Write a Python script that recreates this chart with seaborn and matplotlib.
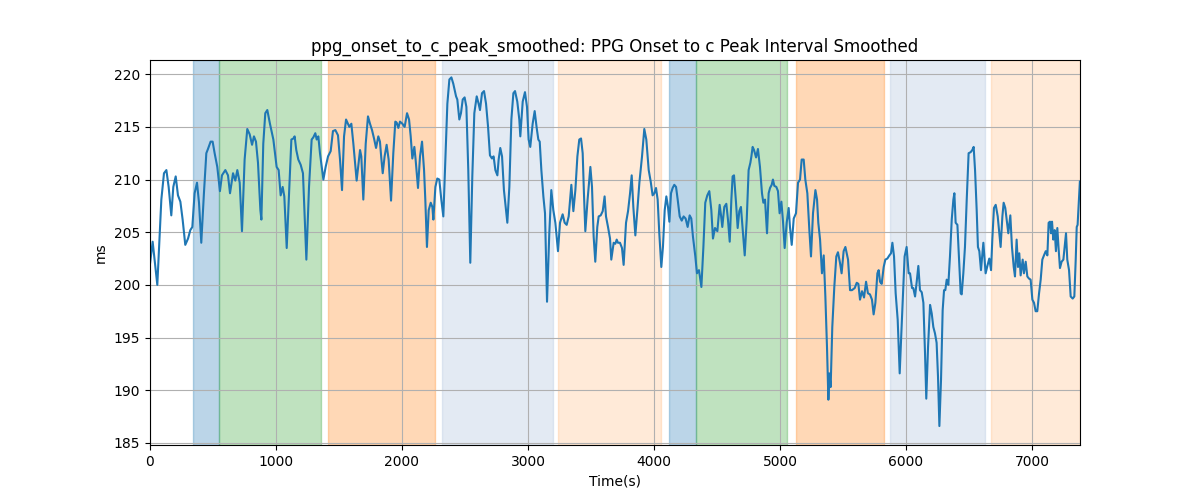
import matplotlib
matplotlib.use("Agg")
import matplotlib.pyplot as plt
import seaborn as sns
import pandas as pd

time_s = [0, 21, 58, 90, 111, 130, 148, 169, 185, 204, 222, 241, 259, 280, 302, 320, 336, 354, 373, 389,
          407, 428, 447, 460, 481, 497, 513, 534, 555, 571, 598, 619, 635, 659, 677, 693, 712, 730, 751, 772,
          791, 810, 825, 841, 857, 876, 884, 899, 915, 931, 952, 979, 1005, 1021, 1037, 1053, 1066, 1085, 1106,
          1122, 1138, 1148, 1161, 1177, 1196, 1214, 1241, 1262, 1283, 1296, 1312, 1323, 1336, 1349, 1376, 1394,
          1413, 1434, 1452, 1471, 1492, 1508, 1524, 1540, 1556, 1571, 1582, 1598, 1614, 1640, 1667, 1677, 1693,
          1712, 1730, 1746, 1762, 1778, 1794, 1812, 1825, 1836, 1847, 1862, 1878, 1894, 1913, 1931, 1947, 1958,
          1971, 1984, 2003, 2021, 2040, 2056, 2069, 2082, 2098, 2108, 2127, 2143, 2159, 2175, 2185, 2198, 2212,
          2228, 2241, 2249, 2265, 2280, 2296, 2312, 2328, 2344, 2360, 2376, 2392, 2407, 2429, 2439, 2455, 2468,
          2482, 2497, 2511, 2526, 2542, 2558, 2574, 2593, 2608, 2619, 2635, 2651, 2667, 2683, 2698, 2714, 2727,
          2741, 2757, 2767, 2780, 2794, 2809, 2836, 2852, 2868, 2884, 2897, 2915, 2931, 2939, 2958, 2976, 2992,
          3005, 3018, 3037, 3053, 3069, 3082, 3093, 3106, 3122, 3135, 3151, 3169, 3185, 3201, 3217, 3238, 3254,
          3275, 3291, 3307, 3323, 3344, 3360, 3376, 3392, 3407, 3421, 3434, 3444, 3455, 3473, 3495, 3508, 3521,
          3534, 3550, 3561, 3577, 3593, 3608, 3619, 3635, 3651, 3661, 3680, 3693, 3704, 3714, 3730, 3746, 3759,
          3778, 3794, 3810, 3823, 3836, 3852, 3868, 3884, 3905, 3923, 3939, 3958, 3974, 3989, 4003, 4016, 4029,
          4042, 4058, 4071, 4085, 4098, 4111, 4122, 4135, 4148, 4161, 4175, 4188, 4204, 4220, 4235, 4251, 4267,
          4283, 4296, 4309, 4328, 4341, 4357, 4376, 4392, 4407, 4423, 4439, 4455, 4468, 4484, 4503, 4521, 4532,
          4542, 4558, 4574, 4587, 4601, 4614, 4624, 4635, 4651, 4664, 4677, 4690, 4704, 4720, 4736, 4751, 4765,
          4773, 4783, 4794, 4810, 4825, 4841, 4857, 4868, 4881, 4897, 4910, 4921, 4934, 4944, 4955, 4971, 4984,
          4997, 5011, 5024, 5037, 5053, 5069, 5079, 5093, 5109, 5127, 5143, 5159, 5172, 5188, 5201, 5217, 5233,
          5246, 5262, 5281, 5294, 5304, 5318, 5333, 5347, 5360, 5373, 5384, 5392, 5402, 5415, 5431, 5447, 5460,
          5476, 5489, 5505, 5519, 5540, 5556, 5571, 5593, 5609, 5622, 5635, 5651, 5667, 5683, 5698, 5714, 5730,
          5743, 5757, 5773, 5783, 5794, 5807, 5823, 5836, 5852, 5868, 5881, 5892, 5905, 5918, 5934, 5950, 5963,
          5979, 5989, 6005, 6021, 6032, 6048, 6058, 6072, 6085, 6098, 6111, 6125, 6138, 6151, 6161, 6175, 6191,
          6204, 6217, 6230, 6243, 6254, 6265, 6278, 6291, 6302, 6312, 6323, 6336, 6349, 6363, 6376, 6384, 6394,
          6408, 6421, 6434, 6442, 6455, 6468, 6482, 6497, 6513, 6526, 6537, 6548, 6561, 6571, 6582, 6595, 6614,
          6632, 6648, 6661, 6675, 6685, 6698, 6712, 6728, 6741, 6751, 6765, 6775, 6788, 6802, 6812, 6828, 6841,
          6855, 6865, 6878, 6889, 6899, 6910, 6926, 6936, 6950, 6963, 6976, 6989, 7003, 7016, 7029, 7042, 7056,
          7069, 7082, 7095, 7109, 7122, 7132, 7143, 7151, 7159, 7169, 7180, 7190, 7201, 7212, 7222, 7235, 7249,
          7259, 7270, 7280, 7294, 7307, 7323, 7336, 7347, 7355, 7362, 7373, 7380]

interval_ms = [202.0, 204.1, 200.0, 208.1, 210.6, 210.9, 209.3, 206.6, 209.3, 210.3, 208.5, 207.9, 206.2, 203.8,
               204.4, 205.2, 205.5, 208.7, 209.7, 207.8, 204.0, 208.7, 212.5, 212.9, 213.6, 213.6, 212.5, 211.2,
               208.9, 210.4, 210.9, 210.4, 208.7, 210.6, 209.9, 210.9, 209.7, 205.1, 211.9, 214.8, 214.3, 213.3,
               214.1, 213.6, 211.6, 207.1, 206.2, 213.4, 216.3, 216.6, 215.3, 213.8, 211.2, 210.9, 208.5, 209.3,
               208.4, 203.5, 209.3, 213.8, 213.9, 214.1, 212.8, 211.9, 211.4, 210.6, 202.4, 209.3, 213.8, 214.0,
               214.4, 213.8, 214.1, 212.5, 210.0, 211.2, 212.2, 212.7, 214.6, 214.7, 214.2, 211.9, 209.0, 214.1,
               215.7, 215.3, 215.0, 215.3, 213.4, 209.9, 212.8, 212.2, 208.1, 213.4, 216.0, 215.3, 214.7, 213.9,
               213.0, 214.1, 213.6, 212.0, 210.6, 212.2, 213.3, 211.9, 208.0, 212.5, 215.5, 215.4, 214.9, 215.5,
               215.3, 215.0, 216.3, 215.7, 214.1, 212.0, 213.1, 211.9, 209.2, 212.2, 213.6, 210.9, 208.1, 203.6,
               207.1, 207.8, 207.4, 206.2, 209.3, 210.1, 210.0, 208.1, 206.5, 211.9, 217.2, 219.5, 219.7, 219.1,
               217.9, 217.6, 215.7, 216.3, 217.6, 217.8, 216.9, 210.9, 202.1, 210.3, 216.3, 217.9, 217.2, 216.6,
               218.2, 218.4, 217.2, 215.0, 212.3, 212.0, 212.2, 210.9, 210.4, 211.9, 213.0, 212.2, 209.0, 205.9,
               209.3, 215.7, 218.2, 218.4, 217.4, 215.7, 214.1, 217.4, 218.3, 216.9, 213.8, 213.1, 215.3, 216.5,
               214.9, 213.8, 213.6, 210.9, 208.4, 206.8, 198.4, 204.9, 209.0, 207.1, 205.9, 203.2, 205.9, 206.7,
               205.9, 205.7, 206.5, 209.5, 207.0, 209.0, 212.2, 213.8, 213.9, 212.5, 208.7, 205.1, 208.1, 211.2,
               209.3, 204.6, 202.2, 205.5, 206.5, 206.6, 207.0, 208.4, 206.5, 205.5, 204.4, 202.4, 204.0, 203.9,
               204.3, 204.0, 204.0, 203.5, 201.9, 205.9, 207.0, 208.7, 210.4, 207.4, 204.7, 207.1, 209.7, 212.2,
               214.8, 213.8, 210.9, 209.8, 208.5, 208.7, 209.2, 208.1, 204.9, 201.7, 203.6, 207.1, 208.4, 207.4,
               206.0, 208.7, 209.2, 209.5, 209.3, 208.1, 206.5, 206.1, 206.5, 206.3, 205.5, 206.6, 206.3, 204.6,
               202.7, 201.1, 201.4, 199.8, 203.6, 207.8, 208.5, 208.9, 207.1, 204.4, 205.4, 205.1, 207.6, 206.6,
               205.5, 207.4, 207.7, 206.2, 204.1, 208.1, 210.3, 210.4, 207.8, 205.4, 207.0, 207.4, 205.2, 202.8,
               206.2, 210.9, 211.6, 212.2, 213.1, 212.8, 212.1, 212.9, 211.2, 208.7, 207.8, 208.1, 204.9, 208.7,
               209.2, 209.5, 210.0, 209.4, 209.3, 208.9, 206.8, 207.9, 206.0, 203.5, 205.9, 207.3, 205.5, 203.8,
               206.3, 206.8, 209.7, 210.0, 211.9, 211.9, 210.0, 208.7, 205.2, 202.7, 206.8, 209.0, 208.1, 205.9,
               204.3, 201.1, 202.8, 198.9, 194.1, 189.1, 191.6, 190.3, 196.0, 199.8, 202.7, 203.1, 202.1, 201.1,
               203.2, 203.6, 202.4, 199.5, 199.5, 199.7, 200.2, 200.1, 198.6, 199.4, 198.8, 200.3, 199.2, 199.1,
               198.6, 197.2, 198.3, 201.1, 201.4, 200.3, 200.1, 201.7, 202.4, 202.5, 202.8, 203.0, 204.0, 202.7,
               199.2, 196.7, 191.6, 195.4, 199.8, 202.7, 203.6, 201.1, 201.1, 199.7, 199.7, 198.9, 200.3, 201.8,
               199.5, 199.3, 198.3, 193.5, 189.2, 194.1, 198.1, 197.3, 196.0, 195.4, 194.5, 191.3, 186.6, 191.0,
               197.6, 199.5, 199.5, 200.5, 200.0, 202.7, 206.2, 208.1, 208.7, 205.9, 205.7, 202.4, 199.2, 199.1,
               201.1, 203.6, 208.1, 212.5, 212.6, 212.8, 213.1, 210.9, 207.1, 203.6, 203.2, 201.4, 204.0, 201.1,
               201.9, 202.5, 201.4, 204.3, 207.3, 207.6, 206.5, 204.9, 203.6, 206.5, 207.8, 207.3, 205.9, 204.9,
               206.6, 203.6, 201.7, 200.8, 204.3, 201.7, 203.0, 200.9, 202.4, 201.1, 202.2, 200.8, 200.6, 200.5,
               198.6, 198.3, 197.5, 197.5, 199.2, 200.5, 202.4, 202.8, 203.2, 202.8, 205.9, 206.0, 204.9, 206.0,
               204.3, 205.2, 203.2, 205.4, 203.3, 201.6, 202.2, 202.4, 203.6, 204.9, 202.4, 201.4, 198.9, 198.7,
               198.9, 202.4, 205.5, 205.7, 208.1, 209.8]

span_starts = [344, 550, 1415, 2317, 3238, 4121, 4336, 5127, 5873, 6675]
span_ends = [550, 1355, 2260, 3196, 4053, 4336, 5053, 5825, 6627, 7381]
span_colors = ["tab:blue", "tab:green", "tab:orange", "lightsteelblue", "tab:orange",
               "tab:blue", "tab:green", "tab:orange", "lightsteelblue", "tab:orange"]
span_alphas = [0.3, 0.3, 0.3, 0.35, 0.16, 0.3, 0.3, 0.3, 0.35, 0.16]

df = pd.DataFrame({"Time(s)": time_s, "ms": interval_ms})

fig, ax = plt.subplots(figsize=(12, 5), dpi=100)
for s, e, c, a in zip(span_starts, span_ends, span_colors, span_alphas):
    ax.axvspan(s, e, color=c, alpha=a)
sns.lineplot(data=df, x="Time(s)", y="ms", ax=ax, color="tab:blue", linewidth=1.5)
ax.set_xlim(0, 7381)
ax.set_ylim(184.8, 221.35)
ax.grid(True)
ax.set_title("ppg_onset_to_c_peak_smoothed: PPG Onset to c Peak Interval Smoothed")
ax.set_xlabel("Time(s)")
ax.set_ylabel("ms")
fig.savefig("out.png", dpi=100)
